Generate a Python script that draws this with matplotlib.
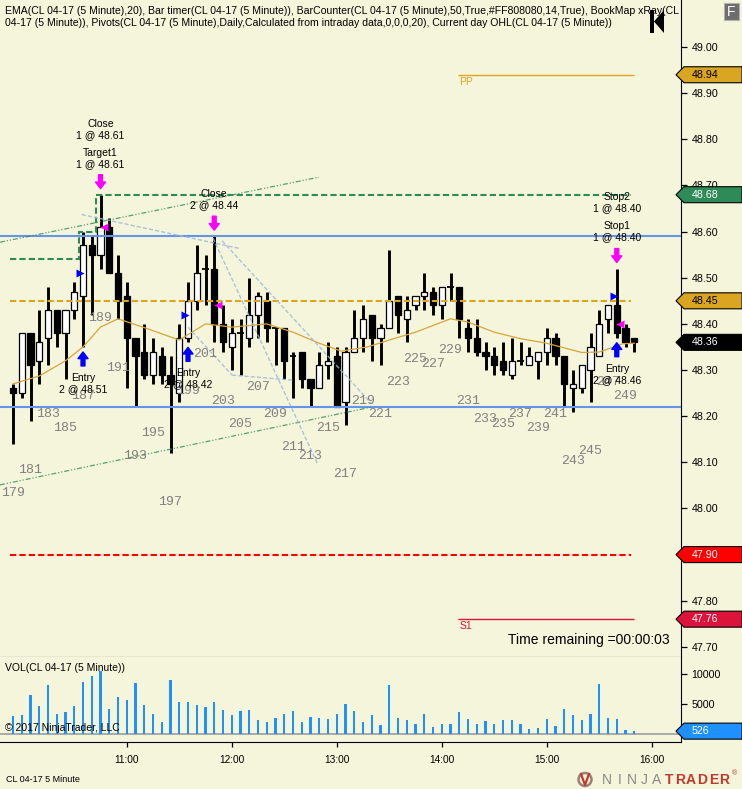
# CL 04-17 5 minute chart, NinjaTrader style
# price panel + volume panel

import numpy as np
import matplotlib
matplotlib.use("Agg")
import matplotlib.pyplot as plt
from matplotlib.patches import Rectangle, Polygon, Circle
from matplotlib.transforms import blended_transform_factory

plt.rcParams['font.family'] = ['Liberation Sans', 'DejaVu Sans']

# ---- bars (BarCounter numbers 179..250) ----
bars = np.arange(179, 251)
opens = [48.26, 48.25, 48.38, 48.32, 48.37, 48.43, 48.38, 48.43, 48.46, 48.57,
         48.55, 48.61, 48.51, 48.46, 48.37, 48.34, 48.29, 48.33, 48.29, 48.25,
         48.37, 48.45, 48.52, 48.52, 48.40, 48.35, 48.38, 48.37, 48.42, 48.45,
         48.39, 48.39, 48.33, 48.34, 48.28, 48.26, 48.31, 48.33, 48.23, 48.34,
         48.37, 48.42, 48.37, 48.39, 48.46, 48.41, 48.44, 48.46, 48.47, 48.44,
         48.48, 48.48, 48.39, 48.37, 48.34, 48.33, 48.32, 48.29, 48.32, 48.31,
         48.32, 48.34, 48.37, 48.33, 48.26, 48.26, 48.30, 48.33, 48.41, 48.44,
         48.39, 48.37]
highs = [48.27, 48.38, 48.38, 48.43, 48.48, 48.43, 48.43, 48.49, 48.60, 48.59,
         48.68, 48.63, 48.55, 48.49, 48.37, 48.40, 48.37, 48.35, 48.33, 48.40,
         48.49, 48.57, 48.55, 48.59, 48.44, 48.41, 48.41, 48.50, 48.47, 48.47,
         48.39, 48.39, 48.34, 48.34, 48.28, 48.34, 48.36, 48.35, 48.35, 48.43,
         48.44, 48.42, 48.40, 48.56, 48.46, 48.46, 48.46, 48.51, 48.48, 48.48,
         48.51, 48.48, 48.41, 48.41, 48.36, 48.35, 48.36, 48.37, 48.36, 48.35,
         48.34, 48.39, 48.38, 48.33, 48.30, 48.31, 48.38, 48.43, 48.44, 48.52,
         48.40, 48.37]
lows = [48.14, 48.24, 48.19, 48.27, 48.31, 48.35, 48.28, 48.41, 48.35, 48.42,
        48.52, 48.51, 48.41, 48.26, 48.22, 48.28, 48.27, 48.27, 48.12, 48.23,
        48.36, 48.43, 48.44, 48.36, 48.34, 48.30, 48.29, 48.35, 48.37, 48.36,
        48.31, 48.28, 48.24, 48.26, 48.22, 48.26, 48.28, 48.22, 48.18, 48.34,
        48.34, 48.32, 48.31, 48.39, 48.38, 48.36, 48.43, 48.43, 48.42, 48.41,
        48.45, 48.37, 48.34, 48.33, 48.30, 48.29, 48.29, 48.28, 48.31, 48.31,
        48.28, 48.31, 48.31, 48.22, 48.21, 48.25, 48.23, 48.33, 48.38, 48.37,
        48.35, 48.34]
closes = [48.25, 48.38, 48.31, 48.36, 48.43, 48.38, 48.43, 48.47, 48.57, 48.55,
          48.61, 48.51, 48.45, 48.37, 48.33, 48.29, 48.34, 48.29, 48.27, 48.37,
          48.45, 48.51, 48.52, 48.40, 48.36, 48.38, 48.38, 48.42, 48.46, 48.39,
          48.39, 48.32, 48.33, 48.28, 48.26, 48.31, 48.32, 48.22, 48.34, 48.37,
          48.41, 48.37, 48.39, 48.45, 48.42, 48.43, 48.46, 48.47, 48.44, 48.48,
          48.48, 48.41, 48.37, 48.34, 48.33, 48.31, 48.30, 48.32, 48.32, 48.33,
          48.34, 48.37, 48.33, 48.27, 48.27, 48.31, 48.35, 48.40, 48.44, 48.38,
          48.36, 48.36]
volumes = [3060, 3220, 6560, 4720, 8220, 3390, 3720, 4720, 8720, 9720,
           10600, 4170, 6170, 5720, 8500, 4890, 3390, 2110, 9060, 5390,
           5390, 4890, 4560, 5390, 4060, 3220, 3890, 4060, 2390, 2110,
           2720, 3390, 3890, 2110, 2890, 2720, 2560, 3390, 5060, 3890,
           2110, 3220, 1560, 8220, 2720, 2390, 1720, 3390, 1220, 1720,
           1720, 3720, 2560, 1720, 2220, 1720, 2390, 2390, 1720, 890,
           1060, 2560, 1390, 4220, 3220, 2390, 3390, 8390, 2720, 2560,
           720, 526]

# EMA(20)
ema_bars = [179, 182, 185, 187, 189, 191, 194, 198, 201, 204, 208, 211, 214,
            216.5, 219.5, 222, 225, 229, 231, 234, 237, 240, 244, 246, 248.7, 250]
ema_vals = [48.270, 48.287, 48.320, 48.350, 48.393, 48.411, 48.392, 48.365,
            48.400, 48.393, 48.400, 48.382, 48.358, 48.341, 48.350, 48.365,
            48.382, 48.411, 48.404, 48.382, 48.368, 48.358, 48.338, 48.339,
            48.357, 48.358]

# counter label for the partly hidden bar 177
extra_counter_bar = 177
extra_counter_low = 48.22

tick_bars = [192, 204, 216, 228, 240, 252]
tick_times = ['11:00', '12:00', '13:00', '14:00', '15:00', '16:00']
price_ticks = [49.00, 48.90, 48.80, 48.70, 48.60, 48.50, 48.40, 48.30,
               48.20, 48.10, 48.00, 47.90, 47.80, 47.70]
vol_ticks = [5000, 10000]

# current day OHL, pivots, user lines
prior_high = 48.54
day_open = 48.45
day_low = 47.90
pivot_pp = 48.94
pivot_s1 = 47.76
pivot_x = (229.85, 250.0)
ohl_x = (178.66, 249.6)
hline_levels = [48.59, 48.22]

# drawn objects: (bar, price) end points
channel_lines = [((177.51, 48.577), (213.97, 48.718)),
                 ((177.51, 48.051), (220.03, 48.220))]
fan_lines = [((186.85, 48.637), (205.02, 48.563)),
             ((202.90, 48.580), (220.03, 48.226)),
             ((201.86, 48.586), (213.86, 48.094)),
             ((199.00, 48.393), (204.03, 48.289)),
             ((204.03, 48.289), (211.00, 48.278))]

# executions
entry_bars = [187, 199, 248]
entry_prices = [48.51, 48.42, 48.46]
entry_texts = ['Entry\n2 @ 48.51', 'Entry\n2 @ 48.42', 'Entry\n2 @ 48.46']
exit_bars = [189, 202, 248]
exit_prices = [48.61, 48.44, 48.40]
exit_texts = [['Target1\n1 @ 48.61', 'Close\n1 @ 48.61'],
              ['Close\n2 @ 48.44'],
              ['Stop1\n1 @ 48.40', 'Stop2\n1 @ 48.40']]

header1 = ('EMA(CL 04-17 (5 Minute),20), Bar timer(CL 04-17 (5 Minute)), '
           'BarCounter(CL 04-17 (5 Minute),50,True,#FF808080,14,True), BookMap xRay(CL')
header2 = ('04-17 (5 Minute)), Pivots(CL 04-17 (5 Minute),Daily,Calculated from '
           'intraday data,0,0,0,20), Current day OHL(CL 04-17 (5 Minute))')

BG = '#f5f5dc'
PT = 0.72  # points per pixel at 100 dpi

fig = plt.figure(figsize=(7.42, 7.89), dpi=100, facecolor=BG)
ax = fig.add_axes([0, 1 - 657 / 789, 681 / 742, 657 / 789], facecolor=BG)
axv = fig.add_axes([0, 1 - 742 / 789, 681 / 742, 85 / 789], facecolor=BG, sharex=ax)

for a in (ax, axv):
    a.spines['top'].set_visible(False)
    a.spines['left'].set_visible(False)
    a.spines['right'].set_color('black')
    a.spines['bottom'].set_color('black')
    a.yaxis.tick_right()
    a.tick_params(axis='y', direction='out', length=4.5, width=0.9, pad=3,
                  labelsize=7.7, colors='black')

# ---- candles ----
for b, o, h, l, c in zip(bars, opens, highs, lows, closes):
    ax.vlines(b, l, h, color='black', lw=2.1, zorder=3)
    if c > o:
        ax.add_patch(Rectangle((b - 0.36, o), 0.72, c - o, fc='white', ec='black',
                               lw=0.9, zorder=3.5))
    elif c < o:
        ax.add_patch(Rectangle((b - 0.36, c), 0.72, o - c, fc='black', ec='black',
                               lw=0.9, zorder=3.5))
    else:
        ax.hlines(o, b - 0.36, b + 0.36, color='black', lw=1.3, zorder=3.5)

# ema
ax.plot(ema_bars, ema_vals, color='#d9a53a', lw=0.9, zorder=4)

# user horizontal lines
for lv in hline_levels:
    ax.axhline(lv, color='#6495ed', lw=1.5, zorder=4)

# current day open / low / running high
dash = (0, (3, 1.5))
ax.hlines(day_open, ohl_x[0], ohl_x[1], color='#daa520', lw=1.5, ls=dash, zorder=4)
ax.hlines(day_low, ohl_x[0], ohl_x[1], color='#ff0000', lw=1.5, ls=dash, zorder=4)
run_high = np.maximum.accumulate(np.concatenate([[prior_high], highs]))[1:]
edges = np.concatenate([[ohl_x[0]], bars[:-1] + 0.5, [ohl_x[1]]])
ax.stairs(run_high, edges, baseline=None, color='#2e8b57', lw=1.5, ls=dash, zorder=4)

# pivots
ax.hlines(pivot_pp, pivot_x[0], pivot_x[1], color='#daa520', lw=1.0, zorder=4)
ax.hlines(pivot_s1, pivot_x[0], pivot_x[1], color='#dc143c', lw=1.0, zorder=4)
ax.annotate('PP', (pivot_x[0], pivot_pp), xytext=(1, -7 * PT), textcoords='offset points',
            ha='left', va='center', fontsize=7.5, color='#daa520')
ax.annotate('S1', (pivot_x[0], pivot_s1), xytext=(1, -7 * PT), textcoords='offset points',
            ha='left', va='center', fontsize=7.5, color='#dc143c')

# drawing tools
for (x0, y0), (x1, y1) in channel_lines:
    ax.plot([x0, x1], [y0, y1], color='#2e8b57', lw=0.9, alpha=0.8,
            ls=(0, (4, 1.5, 1, 1.5, 1, 1.5)), zorder=4)
for (x0, y0), (x1, y1) in fan_lines:
    ax.plot([x0, x1], [y0, y1], color='#9fb9da', lw=1.0, alpha=0.85,
            ls=(0, (3, 1.5)), zorder=4)

# executions
low_of = dict(zip(bars, lows))
high_of = dict(zip(bars, highs))
arrow_style = 'simple,head_length=0.6,head_width=0.9,tail_width=0.35'
for b, p, t in zip(entry_bars, entry_prices, entry_texts):
    ax.plot(b - 0.3, p, marker='>', ms=5.5, color='#0000ff', mec='none', zorder=6)
    ax.annotate('', xy=(b, low_of[b]), xytext=(0, -19 * PT), textcoords='offset points',
                arrowprops=dict(arrowstyle=arrow_style, mutation_scale=8, color='#0000ff',
                                shrinkA=0, shrinkB=5 * PT),
                zorder=6)
    ax.annotate(t, (b, low_of[b]), xytext=(0, -26 * PT), textcoords='offset points',
                ha='center', va='top', fontsize=7.5, linespacing=1.15, zorder=7)
for b, p, ts in zip(exit_bars, exit_prices, exit_texts):
    ax.plot(b + 0.4, p, marker='<', ms=5.5, color='#ff00ff', mec='none', zorder=6)
    ax.annotate('', xy=(b, high_of[b]), xytext=(0, 20 * PT), textcoords='offset points',
                arrowprops=dict(arrowstyle=arrow_style, mutation_scale=8, color='#ff00ff',
                                shrinkA=0, shrinkB=6 * PT),
                zorder=6)
    for k, t in enumerate(ts):
        ax.annotate(t, (b, high_of[b]), xytext=(0, (26 + 29 * k) * PT),
                    textcoords='offset points', ha='center', va='bottom',
                    fontsize=7.5, linespacing=1.15, zorder=7)

# bar counter
cnt_bars = [extra_counter_bar] + [b for b in bars if b % 2 == 1]
cnt_lows = [extra_counter_low] + [low_of[b] for b in bars if b % 2 == 1]
for b, l in zip(cnt_bars, cnt_lows):
    ax.annotate(str(b), (b, l), xytext=(0, -49 * PT), textcoords='offset points',
                ha='center', va='center', fontsize=9.5, color='#808080',
                family='Liberation Mono', zorder=5)

# header and timer
ax.text(5 / 681, 1 - 11.5 / 657, header1, transform=ax.transAxes, fontsize=7.6,
        va='center', ha='left', clip_on=True)
ax.text(5 / 681, 1 - 23.5 / 657, header2, transform=ax.transAxes, fontsize=7.6,
        va='center', ha='left', clip_on=True)
ax.text(508 / 681, 1 - 640 / 657, 'Time remaining =00:00:03', transform=ax.transAxes,
        fontsize=10, va='center', ha='left')

ax.set_yticks(price_ticks)
ax.set_yticklabels(['%.2f' % v for v in price_ticks])
ax.tick_params(axis='x', which='both', bottom=False, labelbottom=False)


def price_tag(a, y, half, text, fc, tc):
    tr = blended_transform_factory(a.transAxes, a.transData)
    x0, x1, x2 = 676 / 681, 684 / 681, 742 / 681
    a.add_patch(Polygon([(x0, y), (x1, y + half), (x2, y + half), (x2, y - half),
                         (x1, y - half)], closed=True, transform=tr, fc=fc, ec='black',
                        lw=0.8, clip_on=False, zorder=8))
    a.text(692 / 681, y, text, transform=tr, color=tc, fontsize=7.7, va='center',
           ha='left', clip_on=False, zorder=9)


half_p = 8 / 461.5
price_tag(ax, pivot_pp, half_p, '%.2f' % pivot_pp, '#daa520', 'black')
price_tag(ax, run_high[-1], half_p, '%.2f' % run_high[-1], '#2e8b57', 'white')
price_tag(ax, day_open, half_p, '%.2f' % day_open, '#daa520', 'black')
price_tag(ax, closes[-1], half_p, '%.2f' % closes[-1], 'black', 'white')
price_tag(ax, day_low, half_p, '%.2f' % day_low, '#ff0000', 'white')
price_tag(ax, pivot_s1, half_p, '%.2f' % pivot_s1, '#dc143c', 'white')

# ---- volume ----
axv.bar(bars, volumes, width=0.24, color='#1e90ff', zorder=3)
axv.axhline(0, color='#a9a9a9', lw=1.4, zorder=2)
axv.set_yticks(vol_ticks)
axv.set_yticklabels([str(v) for v in vol_ticks])
axv.set_xticks(tick_bars)
axv.set_xticklabels(tick_times)
axv.tick_params(axis='x', direction='out', length=3.5, width=0.9, pad=6, labelsize=7.3)
axv.text(5 / 681, 1 - 11 / 85, 'VOL(CL 04-17 (5 Minute))', transform=axv.transAxes,
         fontsize=7.5, va='center', ha='left')
axv.text(5 / 681, 1 - 71 / 85, '\u00a9 2017 NinjaTrader, LLC', transform=axv.transAxes,
         fontsize=7.5, va='center', ha='left', zorder=5)
price_tag(axv, volumes[-1], 8 * 14166 / 85, str(volumes[-1]), '#1e90ff', 'white')

ax.set_xlim(177.514, 255.34)
ax.set_ylim(47.678, 49.102)
axv.set_ylim(-1283, 12883)

# ---- window chrome (pixel coords) ----
ov = fig.add_axes([0, 0, 1, 1], zorder=10)
ov.set_xlim(0, 742)
ov.set_ylim(789, 0)
ov.axis('off')
ov.add_patch(Rectangle((724, 3), 15, 17, fc='#6d6d6d', ec='#b0b0b0', lw=0.8))
ov.text(731.5, 11.5, 'F', color='white', fontsize=10, ha='center', va='center')
ov.add_patch(Rectangle((650, 10), 4, 23, fc='black', ec='none'))
ov.add_patch(Polygon([(654, 21.5), (664, 10), (664, 33)], closed=True, fc='black', ec='none'))
ov.text(6, 779, 'CL 04-17 5 Minute', fontsize=6.5, ha='left', va='center')

# logo: letter-spaced NINJA (grey) + TRADER (red)
ov.add_patch(Circle((585, 779.5), 6.5, fc='none', ec='#9a7f7a', lw=1.8))
ov.plot([581, 585, 589], [774, 785, 774], color='#c0392b', lw=1.6)
for i, ch in enumerate('NINJA'):
    ov.text(607.2 + 12.4 * i, 780, ch, fontsize=10, color='#8a8a8a', ha='center',
            va='center')
for i, ch in enumerate('TRADER'):
    ov.text(668.6 + 11.2 * i, 780, ch, fontsize=10, color='#c0392b', ha='center',
            va='center', fontweight='bold')
ov.text(734, 774, '\u00ae', fontsize=5, color='#c0392b', ha='center', va='center')

fig.savefig('out.png', dpi=100, facecolor=BG)
